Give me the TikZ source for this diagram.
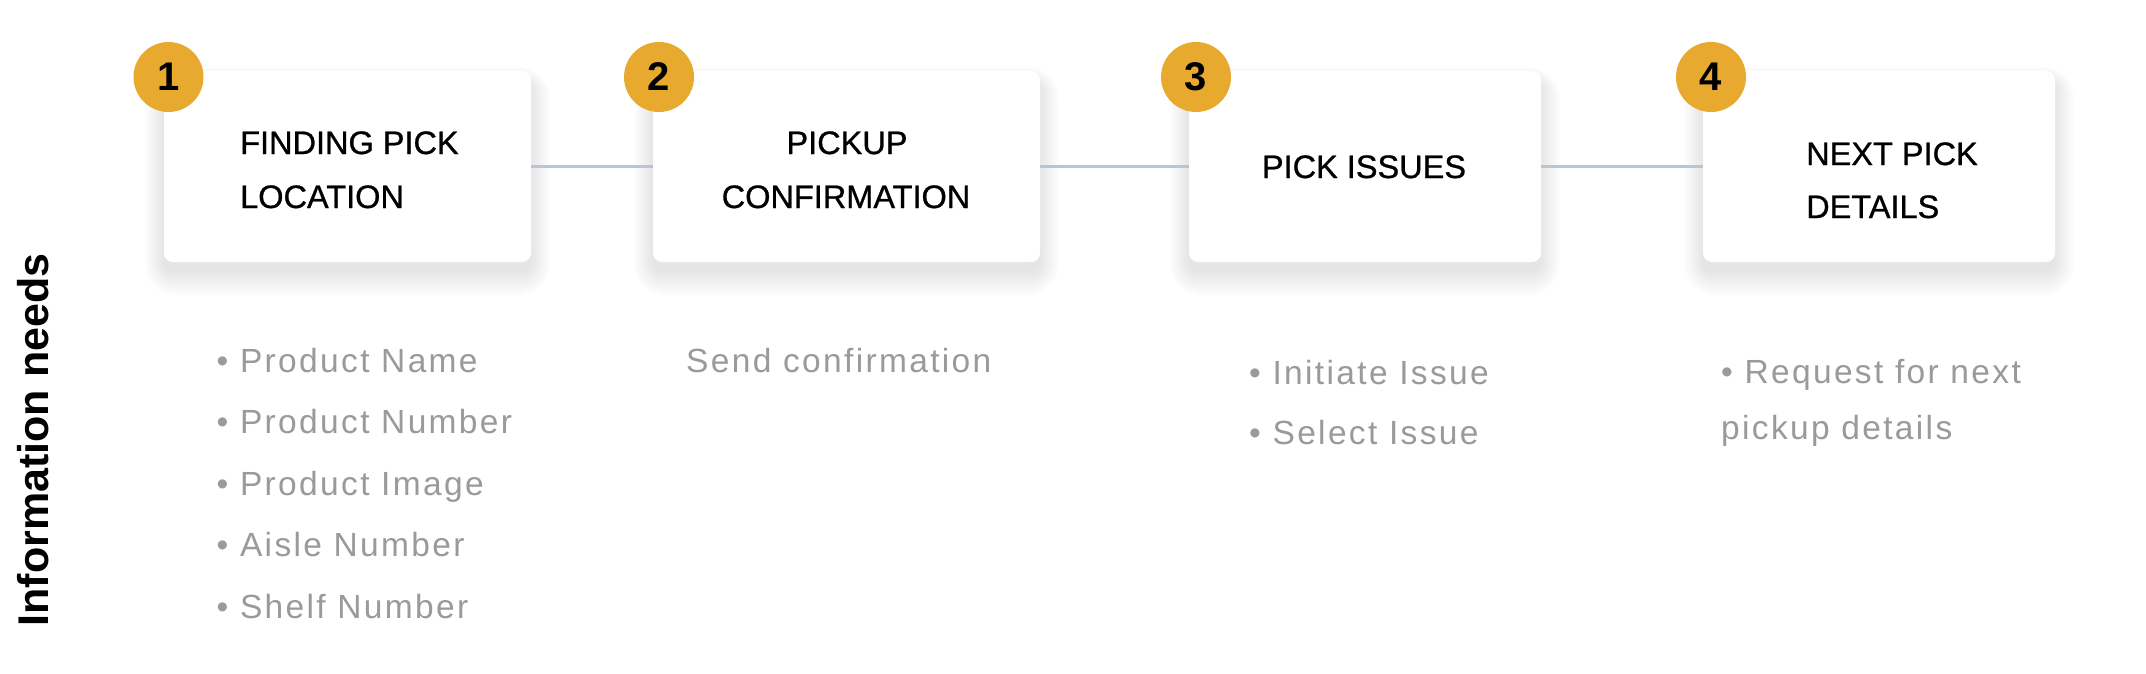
\documentclass[tikz,border=0pt]{standalone}
\usepackage{fontspec}
\setmainfont{Liberation Sans}
\newfontfamily\listfont[LetterSpace=7]{Liberation Sans}
\newfontfamily\titlefont[FakeBold=0.8]{Liberation Sans}
\usetikzlibrary{backgrounds}
\definecolor{gold}{HTML}{E8AA2E}
\definecolor{graytxt}{HTML}{9A9A9A}
\definecolor{linec}{HTML}{BAC5D4}
\begin{document}
\begin{tikzpicture}[x=1pt,y=-1pt,
  card/.style={fill=white, rounded corners=9pt,
    minimum height=191pt, inner sep=0pt},
  shade layer/.style={fill=black, opacity=0.0075},
  badge/.style={circle, fill=gold, minimum size=70pt, inner sep=0pt,
    font=\fontsize{40}{48}\selectfont\bfseries},
  title/.style={inner sep=0pt, font=\titlefont\fontsize{32.5}{40}\selectfont},
  item/.style={inner sep=0pt, anchor=base west, text=graytxt,
    font=\listfont\fontsize{33.5}{40}\selectfont},
  link/.style={draw=linec, line width=2.6pt}]
\useasboundingbox (0,0) rectangle (2146,674);

% side label
\node[rotate=90, inner sep=0pt, font=\fontsize{43}{50}\selectfont\bfseries] (lbl) at (33,440) {Information needs};

% cards
\node[card, minimum width=367pt] (b1) at (347.5,166.5) {};
\node[card, minimum width=387pt] (b2) at (846.5,166.5) {};
\node[card, minimum width=352pt] (b3) at (1365,166.5) {};
\node[card, minimum width=352pt] (b4) at (1879,166.5) {};

% soft shadows under the cards
\begin{scope}[on background layer]
  \fill[white] (0,0) rectangle (2146,674);
  \foreach \b in {b1,b2,b3,b4}{
    \foreach \s [evaluate=\s as \rr using 9+\s,
                 evaluate=\s as \sx using 0.8*\s,
                 evaluate=\s as \st using 0.6*\s-10] in {0,2,...,24}{
      \fill[shade layer, rounded corners=\rr pt]
        ([xshift=-\sx pt, yshift=\st pt]\b.north west) rectangle
        ([xshift=\sx pt, yshift=-10pt-\s pt]\b.south east);
    }
  }
\end{scope}

% connectors
\draw[link] (b1.east) -- (b2.west);
\draw[link] (b2.east) -- (b3.west);
\draw[link] (b3.east) -- (b4.west);

% badges
\node[badge] (n1) at (168.5,77) {1};
\node[badge] (n2) at (659,77) {2};
\node[badge] (n3) at (1196,77) {3};
\node[badge] (n4) at (1711,77) {4};

% titles
\node[title, anchor=base west] (t1a) at (240,154) {FINDING PICK};
\node[title, anchor=base west] (t1b) at (240,208) {LOCATION};
\node[title, anchor=base] (t2a) at (847,154) {PICKUP};
\node[title, anchor=base] (t2b) at (846,208) {CONFIRMATION};
\node[title, anchor=base] (t3a) at (1364,178) {PICK ISSUES};
\node[title, anchor=base west] (t4a) at (1806,165) {NEXT PICK};
\node[title, anchor=base west] (t4b) at (1806,218) {DETAILS};

% information lists
\node[item] (i1a) at (216.5,372) {• Product Name};
\node[item] (i1b) at (216.5,433.5) {• Product Number};
\node[item] (i1c) at (216.5,495) {• Product Image};
\node[item] (i1d) at (216.5,556.5) {• Aisle Number};
\node[item] (i1e) at (216.5,618) {• Shelf Number};

\node[item] (i2a) at (686,372) {Send confirmation};

\node[item] (i3a) at (1249,384) {• Initiate Issue};
\node[item] (i3b) at (1249,444) {• Select Issue};

\node[item] (i4a) at (1721,383) {• Request for next};
\node[item] (i4b) at (1721,439) {pickup details};
\end{tikzpicture}
\end{document}
